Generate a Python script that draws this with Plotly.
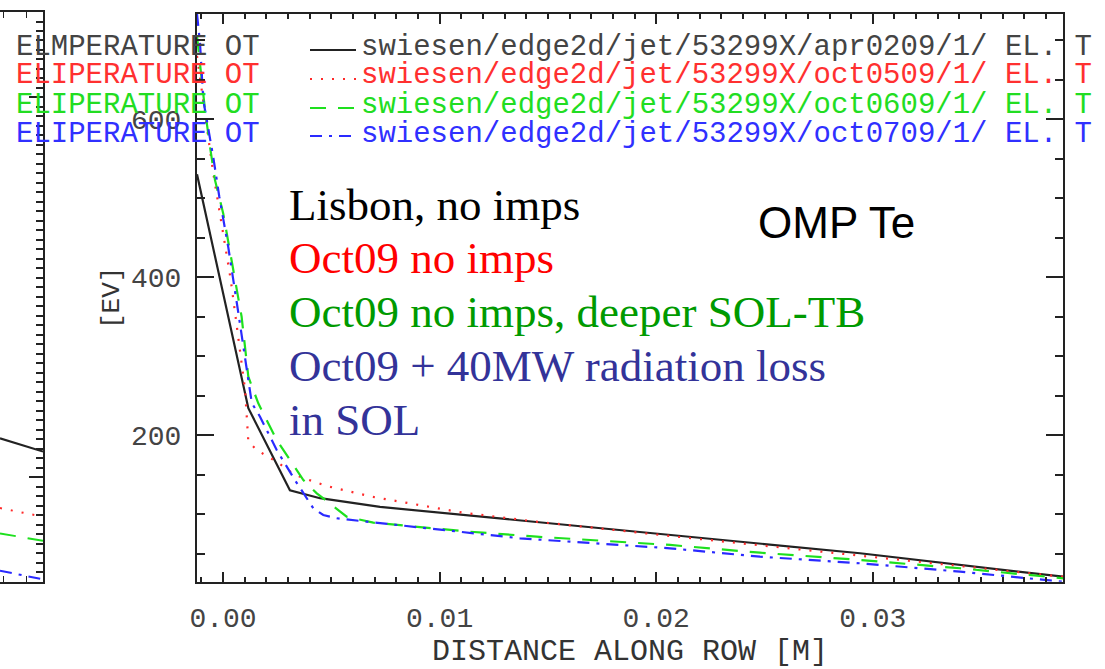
import plotly.graph_objects as go

W, H = 1105, 669

# ---------------- data (main panel: distance along row [m] vs Te [eV]) -------------
x_black = [-0.0012, 0.00117, 0.00309, 0.00448, 0.00725, 0.02064, 0.02941, 0.03878]
y_black = [530, 234, 130, 120, 109, 73.4, 50.3, 20.6]

x_red = [-0.0012, -0.00045, 0.00036, 0.00102, 0.00117, 0.00156, 0.00248, 0.00332,
         0.00479, 0.00687, 0.01109, 0.01448, 0.02064, 0.03878]
y_red = [680, 531.6, 396.2, 257, 191.5, 181, 166.2, 149.4,
         135.4, 121.9, 101.6, 90.3, 72.2, 20.6]

x_green = [-0.0012, -0.00083, -0.0006, -0.00037, 0.00001, 0.00032, 0.00086, 0.00117,
           0.00163, 0.00248, 0.00309, 0.00371, 0.00433, 0.00525, 0.00571, 0.00694,
           0.0114, 0.01448, 0.02064, 0.02479, 0.02941, 0.03403, 0.03878]
y_green = [705, 611.4, 565, 522.8, 480.6, 434.2, 349.7, 273.8,
           240.1, 193.7, 168.4, 143, 126.2, 107.2, 96.6, 89,
           77.6, 71.3, 60.8, 51, 41.8, 31.3, 18.6]

x_blue = [-0.0012, -0.00106, -0.00091, -0.00045, -0.00017, 0.00024, 0.00071, 0.00109,
          0.00133, 0.00171, 0.00248, 0.00332, 0.00417, 0.00463, 0.00525, 0.00663,
          0.00987, 0.01371, 0.02064, 0.02479, 0.02941, 0.03403, 0.03878]
y_blue = [733, 696, 624, 552, 501.6, 438.4, 354.4, 286.5,
          240.5, 223.2, 181, 143, 107.2, 98.7, 94.6, 90.3,
          80.6, 69.2, 56.6, 46, 37.6, 27, 14.3]

# partial neighbouring panel at the left edge (arbitrary units)
x_left = [0.0, 1.0]
y_left_black = [15.1, 13.7]
y_left_red = [7.76, 6.84]
y_left_green = [5.09, 4.3]
y_left_blue = [1.16, 0.25]

x_ticks = [0.00, 0.01, 0.02, 0.03]
y_ticks = [200, 400, 600]

legend_labels = [
    "swiesen/edge2d/jet/53299X/apr0209/1/ EL. T",
    "swiesen/edge2d/jet/53299X/oct0509/1/ EL. T",
    "swiesen/edge2d/jet/53299X/oct0609/1/ EL. T",
    "swiesen/edge2d/jet/53299X/oct0709/1/ EL. T",
]
left_labels = ["ELMPERATURE OT", "ELIPERATURE OT", "ELIPERATURE OT", "ELIPERATURE OT"]
notes = ["Lisbon, no imps", "Oct09 no imps", "Oct09 no imps, deeper SOL-TB",
         "Oct09 + 40MW radiation loss", "in SOL"]

# ---------------- styles ----------------
line_cols = ["#222222", "#ff2a2a", "#1ee01e", "#2a2aff"]
text_cols = ["#444444", "#ff3030", "#22dd22", "#3030ff"]
dashes = ["solid", "2px,9px", "16px,12px", "12px,7px,3px,7px"]
note_cols = ["#000000", "#ff0000", "#009a00", "#333399", "#333399"]
MONO = "Liberation Mono"


def px(xp):
    return xp / W


def py(yp):
    return 1 - yp / H


fig = go.Figure()

series = [(x_black, y_black), (x_red, y_red), (x_green, y_green), (x_blue, y_blue)]
for (xs, ys), c, d in zip(series, line_cols, dashes):
    fig.add_trace(go.Scatter(x=xs, y=ys, mode="lines",
                             line=dict(color=c, width=2.2, dash=d),
                             showlegend=False, xaxis="x", yaxis="y"))

for ys, c, d in zip([y_left_black, y_left_red, y_left_green, y_left_blue], line_cols, dashes):
    fig.add_trace(go.Scatter(x=x_left, y=ys, mode="lines",
                             line=dict(color=c, width=2, dash=d),
                             showlegend=False, xaxis="x2", yaxis="y2"))

axis_col = "#222222"
tick_font = dict(family=MONO, size=28, color="#444444")

fig.update_layout(
    width=W, height=H,
    margin=dict(l=0, r=0, t=0, b=0, pad=0, autoexpand=False),
    paper_bgcolor="white", plot_bgcolor="white",
    xaxis=dict(domain=[px(197), px(1063)], range=[-0.0012, 0.03878],
               tickvals=x_ticks, tickformat=".2f", ticks="inside", ticklen=10,
               tickwidth=2, tickcolor=axis_col,
               minor=dict(dtick=0.001, tick0=0, ticks="inside", ticklen=5,
                          tickwidth=1.5, tickcolor=axis_col, showgrid=False),
               showline=True, linewidth=2, linecolor=axis_col, mirror="allticks",
               showgrid=False, zeroline=False, tickfont=tick_font,
               ticklabelstandoff=10, automargin=False,
               title=dict(text="DISTANCE ALONG ROW [M]",
                          font=dict(family=MONO, size=30, color="#333333"),
                          standoff=8),
               anchor="y"),
    yaxis=dict(domain=[py(581.7), py(14)], range=[14.3, 733],
               tickvals=y_ticks, ticks="inside", ticklen=17, tickwidth=2,
               tickcolor=axis_col,
               minor=dict(dtick=50, tick0=0, ticks="inside", ticklen=8,
                          tickwidth=1.5, tickcolor=axis_col, showgrid=False),
               showline=True, linewidth=2, linecolor=axis_col, mirror="allticks",
               showgrid=False, zeroline=False, tickfont=tick_font,
               ticklabelstandoff=8, automargin=False,
               title=dict(text="[EV]", font=dict(family=MONO, size=26, color="#333333"),
                          standoff=4),
               anchor="x"),
    xaxis2=dict(domain=[0, px(43)], range=[0, 1.0], showticklabels=False,
                ticks="inside", ticklen=6, tickcolor=axis_col,
                tickvals=[0.08, 0.62], automargin=False,
                showline=True, linewidth=2, linecolor=axis_col, mirror="allticks",
                showgrid=False, zeroline=False, anchor="y2"),
    yaxis2=dict(domain=[py(581.7), py(12)], range=[0, 60], side="right",
                showticklabels=False, ticks="inside", ticklen=14, tickwidth=2,
                tickvals=[11, 51], tickcolor=axis_col, automargin=False,
                minor=dict(dtick=1, ticks="inside", ticklen=7, tickcolor=axis_col,
                           tickwidth=1.5),
                showline=True, linewidth=2, linecolor=axis_col,
                showgrid=False, zeroline=False, anchor="x2"),
)

# legend: line samples and labels
rows_text = [47, 76, 105, 134]
rows_line = [50, 79, 108, 136]
for i in range(4):
    fig.add_shape(type="line", xref="paper", yref="paper",
                  x0=px(310), x1=px(356), y0=py(rows_line[i]), y1=py(rows_line[i]),
                  line=dict(color=line_cols[i], width=2, dash=dashes[i]))
    fig.add_annotation(text=legend_labels[i], xref="paper", yref="paper",
                       x=px(359), y=py(rows_text[i]), xanchor="left", yanchor="middle",
                       showarrow=False,
                       font=dict(family=MONO, size=29, color=text_cols[i]))
    fig.add_annotation(text=left_labels[i], xref="paper", yref="paper",
                       x=px(14), y=py(rows_text[i]), xanchor="left", yanchor="middle",
                       showarrow=False,
                       font=dict(family=MONO, size=29, color=text_cols[i]))

# slide notes
note_rows = [205, 258, 312, 366, 420]
for t, c, r in zip(notes, note_cols, note_rows):
    fig.add_annotation(text=t, xref="paper", yref="paper", x=px(287), y=py(r),
                       xanchor="left", yanchor="middle", showarrow=False,
                       font=dict(family="Liberation Serif", size=45, color=c))

fig.add_annotation(text="OMP Te", xref="paper", yref="paper", x=px(756), y=py(222),
                   xanchor="left", yanchor="middle", showarrow=False,
                   font=dict(family="Liberation Sans", size=44, color="#000000"))

fig.write_html("out.html")
